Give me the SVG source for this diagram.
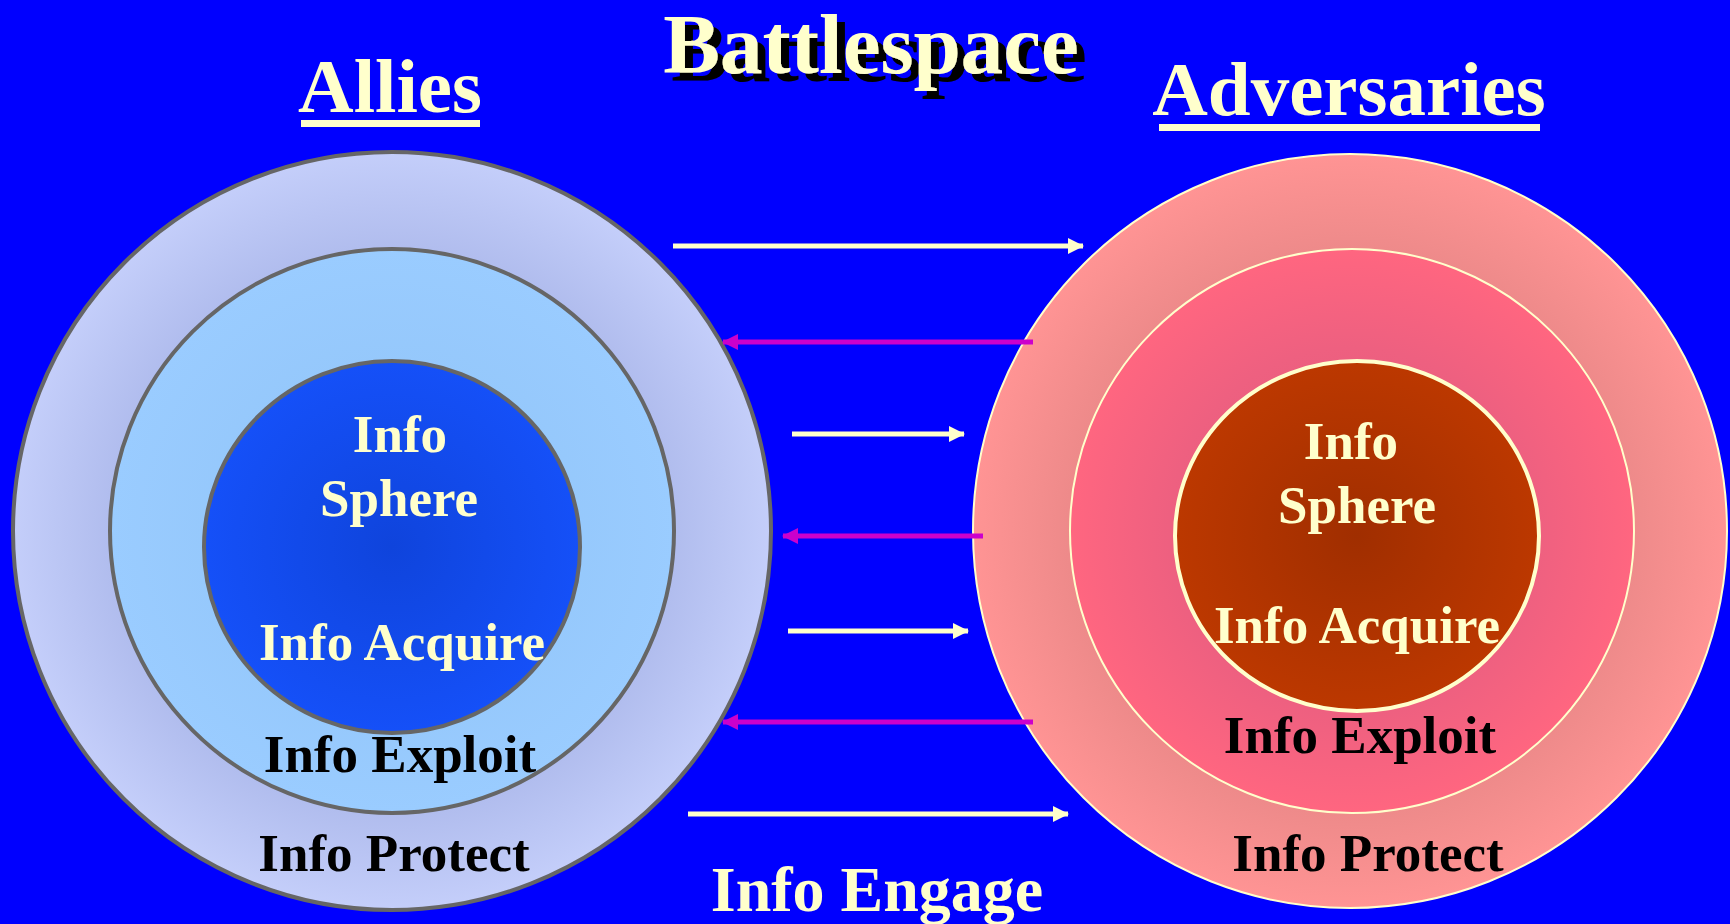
<svg xmlns="http://www.w3.org/2000/svg" width="1730" height="924" viewBox="0 0 1730 924">
<defs>
<radialGradient id="gLO" cx="0.5" cy="0.5" r="0.5">
<stop offset="0" stop-color="#A8B4E4"/><stop offset="0.75" stop-color="#B1BDEE"/><stop offset="1" stop-color="#C4CEFA"/>
</radialGradient>
<radialGradient id="gLM" cx="0.5" cy="0.5" r="0.5">
<stop offset="0" stop-color="#8EC2F6"/><stop offset="1" stop-color="#9ACCFF"/>
</radialGradient>
<radialGradient id="gLI" cx="0.5" cy="0.5" r="0.5">
<stop offset="0" stop-color="#0F44DC"/><stop offset="1" stop-color="#1550F8"/>
</radialGradient>
<radialGradient id="gRO" cx="0.5" cy="0.5" r="0.5">
<stop offset="0" stop-color="#E07880"/><stop offset="0.75" stop-color="#EE8A8A"/><stop offset="1" stop-color="#FF9494"/>
</radialGradient>
<radialGradient id="gRM" cx="0.5" cy="0.5" r="0.5">
<stop offset="0" stop-color="#D85878"/><stop offset="0.65" stop-color="#EE6080"/><stop offset="1" stop-color="#FF6680"/>
</radialGradient>
<radialGradient id="gRI" cx="0.5" cy="0.5" r="0.5">
<stop offset="0" stop-color="#A02E00"/><stop offset="1" stop-color="#BC3800"/>
</radialGradient>
<filter id="shadow" x="-10%" y="-20%" width="130%" height="160%">
<feOffset in="SourceAlpha" dx="8" dy="8" result="off"/>
<feFlood flood-color="#000000"/>
<feComposite in2="off" operator="in" result="sh"/>
<feMerge><feMergeNode in="sh"/><feMergeNode in="SourceGraphic"/></feMerge>
</filter>
<marker id="ahW" markerUnits="userSpaceOnUse" markerWidth="16" markerHeight="16" refX="15" refY="8" orient="auto">
<path d="M0,0 L16,8 L0,16 Z" fill="#FFFFCC"/>
</marker>
<marker id="ahM" markerUnits="userSpaceOnUse" markerWidth="16" markerHeight="16" refX="15" refY="8" orient="auto">
<path d="M0,0 L16,8 L0,16 Z" fill="#CC00CC"/>
</marker>
<style>
text{font-family:"Liberation Serif","Times New Roman",serif;font-weight:bold;text-anchor:middle}
.y{fill:#FFFFCC}
.k{fill:#000000}
.lbl{font-size:53px}
.ring-l{stroke:#666666;stroke-width:4}
.ring-r{stroke:#FFFFCC;stroke-width:2}
.aw{stroke:#FFFFCC;stroke-width:5;fill:none;marker-end:url(#ahW)}
.am{stroke:#CC00CC;stroke-width:5;fill:none;marker-end:url(#ahM)}
</style>
</defs>
<rect x="0" y="0" width="1730" height="924" fill="#0000FF"/>

<g id="title">
<text x="871" y="73" font-size="85" class="y" filter="url(#shadow)">Battlespace</text>
</g>

<g id="allies-heading">
<text x="390" y="112" font-size="77" class="y">Allies</text>
<rect x="301" y="120" width="179" height="7" fill="#FFFFCC"/>
</g>

<g id="adversaries-heading">
<text x="1349" y="115" font-size="77" class="y">Adversaries</text>
<rect x="1159" y="124" width="381" height="7" fill="#FFFFCC"/>
</g>

<g id="allies-protect">
<circle cx="392" cy="531" r="379" fill="url(#gLO)" class="ring-l"/>
</g>
<g id="allies-exploit">
<circle cx="392" cy="531" r="282" fill="url(#gLM)" class="ring-l"/>
</g>
<g id="allies-sphere">
<ellipse cx="392" cy="547" rx="188" ry="186" fill="url(#gLI)" class="ring-l"/>
</g>
<g id="allies-labels">
<text x="400" y="452" class="y lbl">Info</text>
<text x="399" y="516" class="y lbl">Sphere</text>
<text x="402" y="660" class="y lbl">Info Acquire</text>
<text x="400" y="772" class="k lbl">Info Exploit</text>
<text x="394" y="871" class="k lbl">Info Protect</text>
</g>

<g id="adversaries-protect">
<circle cx="1350" cy="531" r="377" fill="url(#gRO)" class="ring-r"/>
</g>
<g id="adversaries-exploit">
<circle cx="1352" cy="531" r="282" fill="url(#gRM)" class="ring-r"/>
</g>
<g id="adversaries-sphere">
<ellipse cx="1357" cy="536" rx="182" ry="175" fill="url(#gRI)" stroke="#FFFFCC" stroke-width="4"/>
</g>
<g id="adversaries-labels">
<text x="1351" y="459" class="y lbl">Info</text>
<text x="1357" y="523" class="y lbl">Sphere</text>
<text x="1357" y="643" class="y lbl">Info Acquire</text>
<text x="1360" y="753" class="k lbl">Info Exploit</text>
<text x="1368" y="871" class="k lbl">Info Protect</text>
</g>

<g id="connectors">
<line x1="673" y1="246" x2="1083" y2="246" class="aw"/>
<line x1="1033" y1="342" x2="723" y2="342" class="am"/>
<line x1="792" y1="434" x2="964" y2="434" class="aw"/>
<line x1="983" y1="536" x2="783" y2="536" class="am"/>
<line x1="788" y1="631" x2="968" y2="631" class="aw"/>
<line x1="1033" y1="722" x2="723" y2="722" class="am"/>
<line x1="688" y1="814" x2="1068" y2="814" class="aw"/>
</g>

<g id="engage-label">
<text x="877" y="911" font-size="64" class="y">Info Engage</text>
</g>
</svg>
